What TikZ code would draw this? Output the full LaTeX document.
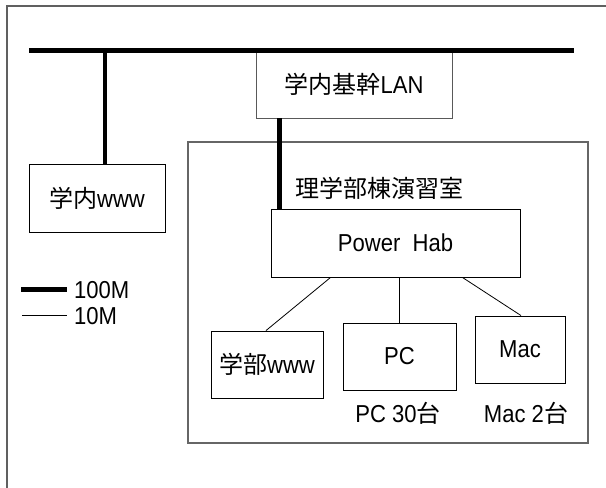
\documentclass[tikz,border=0pt]{standalone}
\usepackage{fontspec}
\setmainfont{Liberation Sans}[FakeStretch=0.9]
\newfontfamily\cjk{Noto Sans CJK JP}[Scale=0.98]
\usetikzlibrary{calc}
\begin{document}
\begin{tikzpicture}[x=1pt,y=-1pt,
  box/.style={draw=black,line width=0.9pt,rectangle,inner sep=0pt,font=\fontsize{24.5}{27}\selectfont},
  lbl/.style={inner sep=0pt,font=\fontsize{24.5}{27}\selectfont},
  fat/.style={line width=4.6pt},
  thin/.style={line width=0.8pt}]
\useasboundingbox (0,0) rectangle (606,488);
% outer frame (left and top only visible)
\draw[gray!75!black,line width=1.5pt] (7,488) -- (7,6) -- (606,6);
% room frame
\draw[gray!80!black,line width=1.2pt] (188,142) rectangle (588,443);
\node[lbl,anchor=west] (room) at (295,188) {\cjk 理学部棟演習室};
% nodes
\node[box,draw=gray!70!black,minimum width=196pt,minimum height=68pt] (lan) at (354,84) {{\cjk 学内基幹}LAN};
\node[box,minimum width=136pt,minimum height=68pt] (www1) at (97,198) {{\cjk 学内}www};
\node[box,minimum width=249pt,minimum height=68pt] (hub) at (395.5,243) {Power\ \ Hab};
\node[box,minimum width=112pt,minimum height=67pt] (dwww) at (267,364.5) {{\cjk 学部}www};
\node[box,minimum width=113pt,minimum height=67pt] (pc) at (399.5,356.5) {PC};
\node[box,minimum width=90pt,minimum height=67pt] (mac) at (520,349.5) {Mac};
\node[lbl] (pcl) at (398,413) {PC 30{\cjk 台}};
\node[lbl] (macl) at (526,413) {Mac 2{\cjk 台}};
% backbone bus
\coordinate (busL) at (29,50.5);
\coordinate (busR) at (574,50.5);
\draw[fat] (busL) -- (busR);
\coordinate (j1) at (105,50.5);
\draw[fat] (j1) -- (j1 |- www1.north);
\coordinate (j2) at (279.5,118);
\draw[fat] (j2) -- (j2 |- hub.north);
% 10M links
\draw[thin] ([xshift=60pt]hub.south west) -- ([xshift=-1pt]dwww.north);
\draw[thin] (hub.south -| pc.north) -- (pc.north);
\draw[thin] ([xshift=-58pt]hub.south east) -- ([xshift=1pt]mac.north);
% legend
\coordinate (lg1a) at (21,289.5);
\coordinate (lg1b) at (67,289.5);
\draw[fat] (lg1a) -- (lg1b);
\node[lbl,anchor=west] (l100) at (74,290) {100M};
\coordinate (lg2a) at (22,315);
\coordinate (lg2b) at (67,315);
\draw[thin] (lg2a) -- (lg2b);
\node[lbl,anchor=west] (l10) at (74,316) {10M};
\end{tikzpicture}
\end{document}
